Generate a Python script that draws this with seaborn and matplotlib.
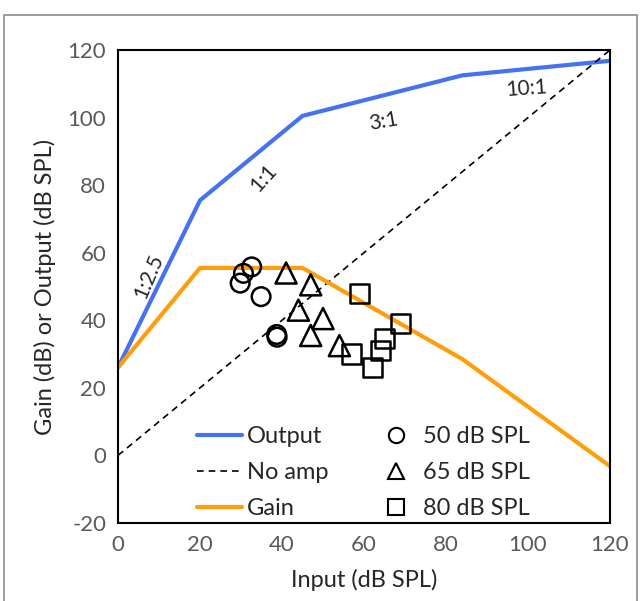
import numpy as np
import pandas as pd
import matplotlib
matplotlib.use("Agg")
import matplotlib.pyplot as plt
from matplotlib.lines import Line2D
from matplotlib.patches import Rectangle
import seaborn as sns

sns.set_style("white")
plt.rcParams['font.family'] = ['Lato', 'DejaVu Sans']
plt.rcParams['axes.unicode_minus'] = False

# input/output curve of the hearing aid
curve_in = [0, 20, 45, 84, 120]
output_db = [26, 75.5, 100.5, 112.5, 116.8]
gain_db = [26, 55.5, 55.5, 28.5, -3.2]
noamp_in = [0, 120]

# measured gain points
in_50 = [32.6, 30.6, 29.8, 34.9, 38.7, 38.8]
gain_50 = [55.8, 53.9, 51.0, 47.0, 35.8, 35.0]
in_65 = [41, 47, 44, 50, 47, 54]
gain_65 = [54, 50.5, 43, 40.5, 35.5, 32.5]
in_80 = [59, 69, 57, 65, 64, 62]
gain_80 = [48, 39, 30, 34.5, 31, 26]

blue = '#4472F0'
orange = '#FF9E0A'

fig = plt.figure(figsize=(6.43, 6.01), dpi=100)
ax = fig.add_axes([0.1835, 0.1298, 0.7652, 0.787])

sns.lineplot(x=curve_in, y=output_db, color=blue, lw=3, ax=ax)
sns.lineplot(x=noamp_in, y=noamp_in, color='black', lw=1.2, ls=(0, (4, 3)), ax=ax)
sns.lineplot(x=curve_in, y=gain_db, color=orange, lw=3, ax=ax)

for xs, ys, m, s in [(in_50, gain_50, 'o', 180), (in_65, gain_65, '^', 230), (in_80, gain_80, 's', 190)]:
    sns.scatterplot(x=xs, y=ys, marker=m, s=s, facecolors='none', edgecolor='black',
                    linewidth=1.8, ax=ax, zorder=5)

ax.text(7.4, 53, '1:2.5', rotation=67, fontsize=15, ha='center', va='center')
ax.text(35.4, 82, '1:1', rotation=48, fontsize=15, ha='center', va='center')
ax.text(64.7, 98.7, '3:1', rotation=10, fontsize=15, ha='center', va='center')
ax.text(99.7, 108.6, '10:1', rotation=4, fontsize=15, ha='center', va='center')

ax.set_xlim(0, 120)
ax.set_ylim(-20, 120)
ax.set_xticks(range(0, 121, 20))
ax.set_yticks(range(-20, 121, 20))
ax.tick_params(direction='out', length=5, width=1.2, colors='black', labelcolor='#595959', labelsize=16)
for sp in ax.spines.values():
    sp.set_color('black')
    sp.set_linewidth(1.5)
ax.set_xlabel('Input (dB SPL)', fontsize=17, labelpad=10)
ax.set_ylabel('Gain (dB) or Output (dB SPL)', fontsize=17, labelpad=8)

handles = [
    Line2D([], [], color=blue, lw=3, label='Output'),
    Line2D([], [], color='black', lw=1.2, ls=(0, (4, 3)), label='No amp'),
    Line2D([], [], color=orange, lw=3, label='Gain'),
    Line2D([], [], color='black', marker='o', ls='none', mfc='none', mew=1.5, ms=11, label='50 dB SPL'),
    Line2D([], [], color='black', marker='^', ls='none', mfc='none', mew=1.5, ms=11, label='65 dB SPL'),
    Line2D([], [], color='black', marker='s', ls='none', mfc='none', mew=1.5, ms=11, label='80 dB SPL'),
]
ax.legend(handles=handles, ncol=2, frameon=False, loc='lower left', bbox_to_anchor=(0.118, -0.036),
          fontsize=17, handlelength=1.9, handletextpad=0.2, columnspacing=1.9, labelspacing=0.62)

fig.add_artist(Rectangle((0.006, -0.01), 0.985, 0.985, transform=fig.transFigure,
                         fill=False, edgecolor='#8c8c8c', lw=1.2))

fig.savefig('out.png', dpi=100)
